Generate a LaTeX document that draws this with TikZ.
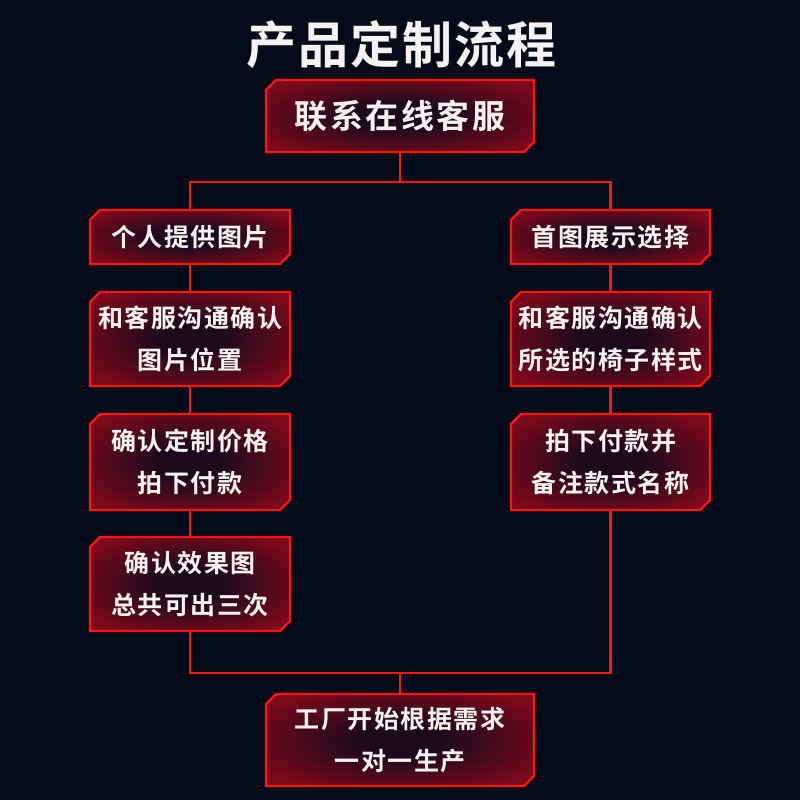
\documentclass[tikz,border=0pt]{standalone}
\usepackage{fontspec}
\setmainfont{Noto Sans CJK SC}[BoldFont={Noto Sans CJK SC Bold}]
\usetikzlibrary{shapes.misc}
\definecolor{bgc}{HTML}{060B1A}
\definecolor{redline}{HTML}{FF1414}
\definecolor{boxin}{HTML}{1C0A1C}
\definecolor{boxout}{HTML}{7A0A1C}
\definecolor{txt}{HTML}{F6F2F2}
\pgfdeclareradialshading{boxshade}{\pgfpoint{0bp}{0bp}}{%
  color(0bp)=(boxin); color(8bp)=(boxin); color(30bp)=(boxout); color(50bp)=(boxout)}
\tikzset{
  flowbox/.style={chamfered rectangle, chamfered rectangle corners={north west,south east},
    chamfered rectangle xsep=5pt, chamfered rectangle ysep=5pt,
    draw=redline, line width=2.4pt, shading=boxshade, inner sep=0pt,
    text=txt, font=\bfseries\fontsize{25}{42}\selectfont\addfontfeature{LetterSpace=6}, align=center},
  conn/.style={draw=redline, line width=2.4pt}
}
\begin{document}
\begin{tikzpicture}[x=1pt,y=-1pt]
\fill[bgc] (0,0) rectangle (800,800);
\useasboundingbox (0,0) rectangle (800,800);
\node[text=txt, font=\bfseries\fontsize{50}{56}\selectfont\addfontfeature{LetterSpace=4}] (title) at (401,45) {产品定制流程};
\node[flowbox, minimum width=268pt, minimum height=72pt, font=\bfseries\fontsize{33}{40}\selectfont\addfontfeature{LetterSpace=8}] (top) at (400,116) {联系在线客服};
\node[flowbox, minimum width=200pt, minimum height=54pt] (L1) at (190,237) {个人提供图片};
\node[flowbox, minimum width=200pt, minimum height=94pt] (L2) at (190,339) {和客服沟通确认\\图片位置};
\node[flowbox, minimum width=200pt, minimum height=96pt] (L3) at (190,462) {确认定制价格\\拍下付款};
\node[flowbox, minimum width=200pt, minimum height=94pt] (L4) at (190,584) {确认效果图\\总共可出三次};
\node[flowbox, minimum width=199pt, minimum height=54pt] (R1) at (610.5,237) {首图展示选择};
\node[flowbox, minimum width=199pt, minimum height=94pt] (R2) at (610.5,339) {和客服沟通确认\\所选的椅子样式};
\node[flowbox, minimum width=199pt, minimum height=96pt] (R3) at (610.5,462) {拍下付款并\\备注款式名称};
\node[flowbox, minimum width=268pt, minimum height=92pt] (B) at (400,740) {工厂开始根据需求\\一对一生产};
\coordinate (j1) at (400,182);
\coordinate (jl) at (190,182);
\coordinate (jr) at (610.5,182);
\coordinate (bl) at (190,673);
\coordinate (br) at (610.5,673);
\coordinate (j2) at (400,673);
\draw[conn] (top.south) -- (j1);
\draw[conn] ([xshift=-1.2pt]jl) -- ([xshift=1.2pt]jr);
\draw[conn] (jl) -- (L1.north);
\draw[conn] (jr) -- (R1.north);
\draw[conn] (L1.south) -- (L2.north);
\draw[conn] (L2.south) -- (L3.north);
\draw[conn] (L3.south) -- (L4.north);
\draw[conn] (R1.south) -- (R2.north);
\draw[conn] (R2.south) -- (R3.north);
\draw[conn, line join=miter] (L4.south) -- (bl) -- (br) -- (R3.south);
\draw[conn] (j2) -- (B.north);
\end{tikzpicture}
\end{document}
